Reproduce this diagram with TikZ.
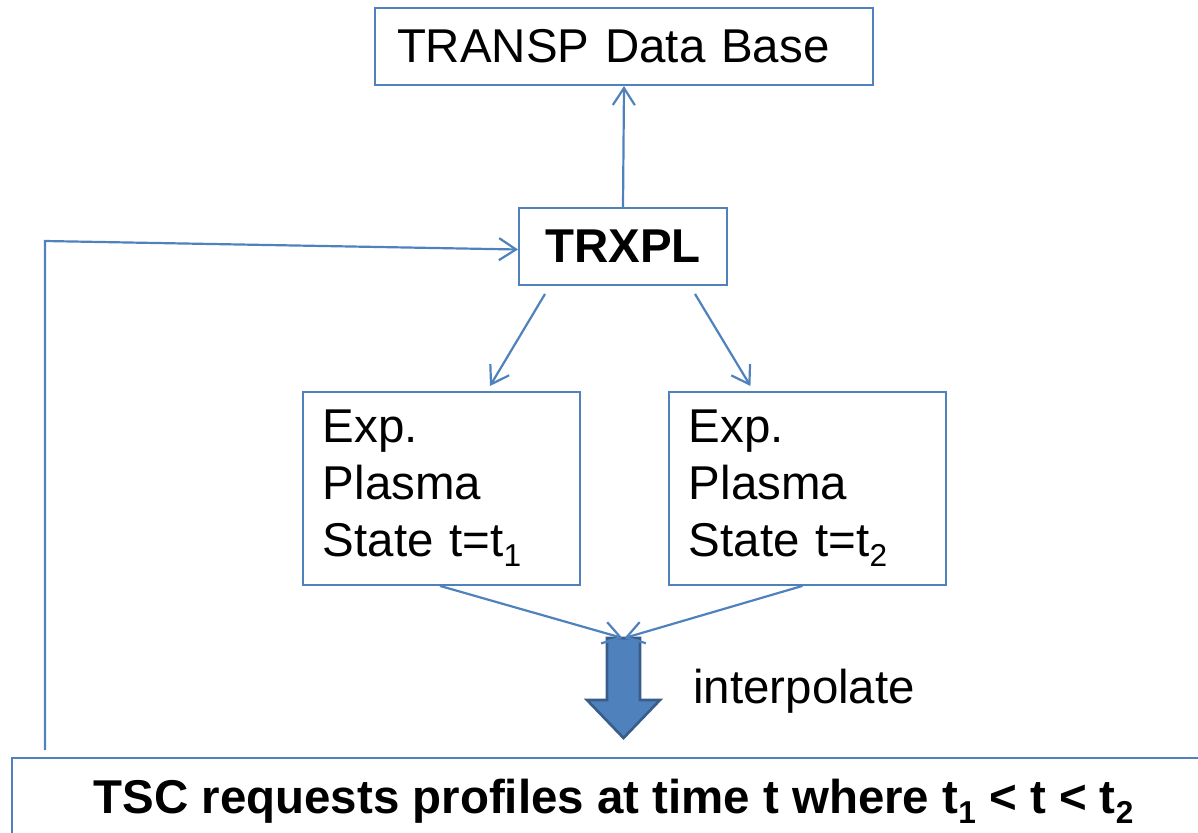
\documentclass[tikz,border=0pt]{standalone}
\usepackage{fontspec}
\setmainfont{Liberation Sans}
\usetikzlibrary{positioning,arrows.meta,calc}
\definecolor{boxblue}{HTML}{4F81BD}
\definecolor{darkblue}{HTML}{385D8A}
\newcommand{\lowidx}[1]{\raisebox{-5.5pt}{\fontsize{18}{18}\selectfont #1}}
\tikzset{
  block/.style={draw=boxblue, line width=1.1pt, font=\fontsize{27}{32.4}\selectfont},
  link/.style={draw=boxblue, line width=1.25pt, -{Straight Barb[length=3.4mm,width=4.4mm]}},
}

\begin{document}
\begin{tikzpicture}[x=0.2mm,y=-0.2mm]
  \path[use as bounding box, clip] (0,0) rectangle (1198,832);
  \node[block, minimum width=41.6mm, minimum height=15.4mm, inner sep=0pt] (trxpl) at (623,246.5) {\textbf{TRXPL}};
  \node[block, above=24.2mm of trxpl, minimum height=15.4mm, text width=90.8mm, inner xsep=4.4mm, inner ysep=0pt, align=left, xshift=0.2mm] (db) {TRANSP Data Base};
  \node[block, below=21mm of trxpl, xshift=-36.3mm, minimum height=38.6mm, text width=47.4mm, inner xsep=4mm, align=left] (exp1) {Exp.\\Plasma\\State t=t\lowidx{1}};
  \node[block, right=17.4mm of exp1, minimum height=38.6mm, text width=47.4mm, inner xsep=4mm, align=left] (exp2) {Exp.\\Plasma\\State t=t\lowidx{2}};
  \node[block, minimum width=240.6mm, minimum height=17.4mm, font=\fontsize{27}{32.4}\selectfont\bfseries] (tsc) at (613.5,801.5) {TSC requests profiles at time t where t\lowidx{1} < t < t\lowidx{2}};
  \node[anchor=base west, inner sep=0pt, font=\fontsize{27}{32.4}\selectfont] (interp) at (693,703) {interpolate};
  \coordinate (fat) at (623.5,638);
  \coordinate (fb) at (45,750);
  \coordinate (bend) at (45,241);

  % fat arrow
  \filldraw[fill=boxblue, draw=darkblue, line width=1.5pt, line join=miter]
    ($(fat)+(-16.5,0)$) -- ++(33,0) -- ++(0,62) -- ++(20,0) -- ($(fat)+(0,100)$)
    -- ($(fat)+(-36.5,62)$) -- ++(20,0) -- cycle;

  \draw[link] (trxpl.north) -- (db.south);
  \draw[link] ($(trxpl.south)+(-78,8)$) -- ($(exp1.north)+(48.5,-5)$);
  \draw[link] ($(trxpl.south)+(72,8)$) -- ($(exp2.north)+(-57,-5)$);
  \draw[link] ($(exp1.south)+(-1.5,0)$) -- ($(fat)+(-1,0)$);
  \draw[link] ($(exp2.south)+(-5,0)$) -- ($(fat)+(1,0)$);
  \draw[link] (fb) -- (bend) -- ($(trxpl.west)+(0,3)$);
\end{tikzpicture}
\end{document}
